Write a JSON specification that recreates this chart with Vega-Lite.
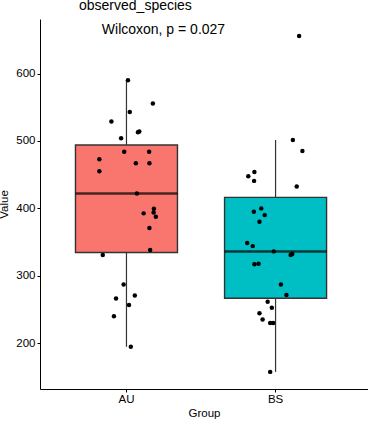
{
  "$schema": "https://vega.github.io/schema/vega-lite/v6.json",
  "width": 328,
  "height": 370,
  "autosize": {"type": "none"},
  "padding": {"left": 40, "top": 19, "right": 0, "bottom": 35},
  "title": {"text": "observed_species", "anchor": "start", "frame": "group", "dx": 39, "offset": 6, "fontSize": 14, "fontWeight": "normal", "font": "Liberation Sans", "color": "black"},
  "config": {
    "view": {"stroke": null},
    "font": "Liberation Sans",
    "axis": {"grid": false, "domainColor": "black", "tickColor": "black", "labelColor": "black", "titleColor": "black", "labelFontSize": 11.5, "titleFontSize": 11.5, "titleFontWeight": "normal", "tickSize": 3, "labelFont": "Liberation Sans", "titleFont": "Liberation Sans"}
  },
  "data": {"values": [
    {"Group": "AU", "value": 590, "jitter": 0.010},
    {"Group": "AU", "value": 555.5, "jitter": 0.177},
    {"Group": "AU", "value": 543, "jitter": 0.022},
    {"Group": "AU", "value": 529, "jitter": -0.101},
    {"Group": "AU", "value": 513, "jitter": 0.077},
    {"Group": "AU", "value": 514, "jitter": 0.086},
    {"Group": "AU", "value": 504, "jitter": -0.036},
    {"Group": "AU", "value": 484, "jitter": -0.015},
    {"Group": "AU", "value": 484, "jitter": 0.152},
    {"Group": "AU", "value": 473, "jitter": -0.182},
    {"Group": "AU", "value": 467, "jitter": 0.063},
    {"Group": "AU", "value": 467, "jitter": 0.154},
    {"Group": "AU", "value": 455, "jitter": -0.182},
    {"Group": "AU", "value": 422, "jitter": 0.070},
    {"Group": "AU", "value": 399.5, "jitter": 0.184},
    {"Group": "AU", "value": 394, "jitter": 0.182},
    {"Group": "AU", "value": 392.6, "jitter": 0.115},
    {"Group": "AU", "value": 387.6, "jitter": 0.197},
    {"Group": "AU", "value": 370.8, "jitter": 0.154},
    {"Group": "AU", "value": 338.2, "jitter": 0.159},
    {"Group": "AU", "value": 330.8, "jitter": -0.159},
    {"Group": "AU", "value": 287, "jitter": -0.019},
    {"Group": "AU", "value": 270.6, "jitter": 0.056},
    {"Group": "AU", "value": 266.2, "jitter": -0.070},
    {"Group": "AU", "value": 256.7, "jitter": 0.017},
    {"Group": "AU", "value": 240, "jitter": -0.084},
    {"Group": "AU", "value": 194.6, "jitter": 0.029},
    {"Group": "BS", "value": 655.8, "jitter": 0.158},
    {"Group": "BS", "value": 501.5, "jitter": 0.116},
    {"Group": "BS", "value": 485, "jitter": 0.180},
    {"Group": "BS", "value": 454, "jitter": -0.142},
    {"Group": "BS", "value": 447.8, "jitter": -0.183},
    {"Group": "BS", "value": 440.8, "jitter": -0.144},
    {"Group": "BS", "value": 432.6, "jitter": 0.142},
    {"Group": "BS", "value": 400, "jitter": -0.096},
    {"Group": "BS", "value": 395, "jitter": -0.146},
    {"Group": "BS", "value": 390, "jitter": -0.073},
    {"Group": "BS", "value": 380.2, "jitter": -0.108},
    {"Group": "BS", "value": 348.5, "jitter": -0.190},
    {"Group": "BS", "value": 344, "jitter": -0.153},
    {"Group": "BS", "value": 336.2, "jitter": -0.012},
    {"Group": "BS", "value": 330.7, "jitter": 0.101},
    {"Group": "BS", "value": 332.2, "jitter": 0.112},
    {"Group": "BS", "value": 317, "jitter": -0.142},
    {"Group": "BS", "value": 318, "jitter": -0.114},
    {"Group": "BS", "value": 287.2, "jitter": 0.036},
    {"Group": "BS", "value": 271.5, "jitter": 0.073},
    {"Group": "BS", "value": 261.6, "jitter": -0.053},
    {"Group": "BS", "value": 252.7, "jitter": -0.025},
    {"Group": "BS", "value": 244.5, "jitter": -0.108},
    {"Group": "BS", "value": 235, "jitter": -0.087},
    {"Group": "BS", "value": 230, "jitter": -0.036},
    {"Group": "BS", "value": 230, "jitter": -0.016},
    {"Group": "BS", "value": 157.4, "jitter": -0.036}
  ]},
  "layer": [
    {
      "mark": {"type": "boxplot", "extent": 1.5, "size": 102, "outliers": false, "ticks": false,
        "box": {"stroke": "#333333", "strokeWidth": 1.4},
        "median": {"color": "black", "thickness": 2.5},
        "rule": {"color": "#333333", "strokeWidth": 1.2}},
      "encoding": {
        "x": {"field": "Group", "type": "nominal", "scale": {"paddingInner": 0.3, "paddingOuter": 0.25, "align": 0.46}, "axis": {"labelAngle": 0, "title": "Group", "labelPadding": 1, "titlePadding": 3}},
        "y": {"field": "value", "type": "quantitative", "scale": {"domain": [132, 681], "nice": false, "zero": false}, "axis": {"values": [200, 300, 400, 500, 600], "title": "Value", "titlePadding": 6, "labelPadding": 2}},
        "color": {"field": "Group", "type": "nominal", "scale": {"domain": ["AU", "BS"], "range": ["#F8766D", "#00BFC4"]}, "legend": null}
      }
    },
    {
      "mark": {"type": "point", "filled": true, "color": "black", "size": 20, "opacity": 1},
      "encoding": {
        "x": {"field": "Group", "type": "nominal"},
        "xOffset": {"field": "jitter", "type": "quantitative", "scale": {"domain": [-0.35, 0.35]}},
        "y": {"field": "value", "type": "quantitative"}
      }
    },
    {
      "data": {"values": [{"Group": "AU", "value": 664, "label": "Wilcoxon, p = 0.027"}]},
      "mark": {"type": "text", "align": "center", "baseline": "middle", "dx": 37, "fontSize": 14, "font": "Liberation Sans", "color": "black"},
      "encoding": {
        "x": {"field": "Group", "type": "nominal"},
        "y": {"field": "value", "type": "quantitative"},
        "text": {"field": "label"}
      }
    }
  ]
}
